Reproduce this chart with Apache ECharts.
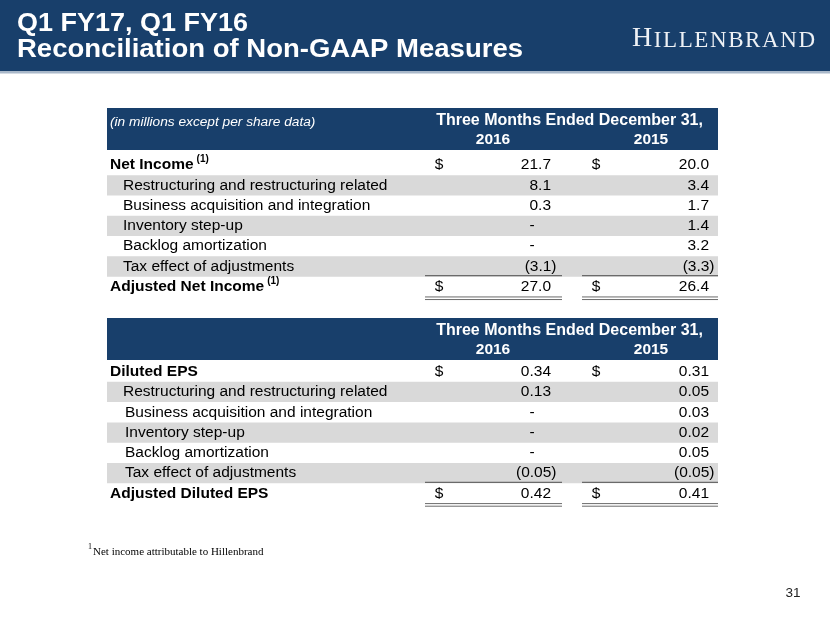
<!DOCTYPE html>
<html>
<head>
<meta charset="utf-8">
<script src="https://cdn.jsdelivr.net/npm/echarts@6/dist/echarts.min.js"></script>
<style>html,body{margin:0;padding:0;background:#fff}#c{width:830px;height:623px}</style>
</head>
<body>
<div id="c"></div>
<script>
// ---------------- data ----------------
const titleLines = ['Q1 FY17, Q1 FY16', 'Reconciliation of Non-GAAP Measures'];
const brandName = 'HILLENBRAND';
const headerNote = '(in millions except per share data)';
const periodTitle = 'Three Months Ended December 31,';
const years = ['2016', '2015'];

const incomeRows = ['Net Income', 'Restructuring and restructuring related', 'Business acquisition and integration', 'Inventory step-up', 'Backlog amortization', 'Tax effect of adjustments', 'Adjusted Net Income'];
const incomeNotes = ['(1)', '', '', '', '', '', '(1)'];
const income2016 = [21.7, 8.1, 0.3, null, null, -3.1, 27.0];
const income2015 = [20.0, 3.4, 1.7, 1.4, 3.2, -3.3, 26.4];

const epsRows = ['Diluted EPS', 'Restructuring and restructuring related', 'Business acquisition and integration', 'Inventory step-up', 'Backlog amortization', 'Tax effect of adjustments', 'Adjusted Diluted EPS'];
const epsNotes = ['', '', '', '', '', '', ''];
const eps2016 = [0.34, 0.13, null, null, null, -0.05, 0.42];
const eps2015 = [0.31, 0.05, 0.03, 0.02, 0.05, -0.05, 0.41];

const footnoteMark = '1';
const footnoteText = 'Net income attributable to Hillenbrand';
const pageNumber = '31';

// ---------------- styles / layout ----------------
const SANS = '"Liberation Sans", Arial, sans-serif';
const SERIF = '"Liberation Serif", "Times New Roman", serif';
const NAVY = '#183f6b';
const SHADE = '#d9d9d9';
const RULE = '#6a6a6a';
const FS = 15.5;
const GRID_LEFT = 107, GRID_W = 611;
// column offsets relative to the table's left edge
const COL = { label: 3, sub: 16, dollar: [332, 489], val: [444, 602], paren: 5.5, dash: [425, 582], rule: [[318, 455], [475, 611]] };

const tables = [
  { rows: incomeRows, notes: incomeNotes, a: income2016, b: income2015, dec: 1, indent: [], top: 154.85, headerTop: 108, showNote: true },
  { rows: epsRows, notes: epsNotes, a: eps2016, b: eps2015, dec: 2, indent: [null, 16, 18, 18, 18, 18, null], top: 361.5, headerTop: 318, showNote: false }
];
const ROW_H = 20.3;

const measureCtx = document.createElement('canvas').getContext('2d');
function measure(s, font) { measureCtx.font = font; return measureCtx.measureText(s).width; }

function txt(x, y, s, o) {
  o = o || {};
  const align = o.align || 'left';
  const va = o.va || 'middle';
  const el = {
    type: 'text', x: x, y: y, silent: true,
    style: {
      text: s, fill: o.color || '#000', fontSize: o.size || FS, fontWeight: o.weight || 'normal',
      fontStyle: o.style || 'normal', fontFamily: o.family || SANS,
      align: align, verticalAlign: va, textAlign: align, textVerticalAlign: va
    }
  };
  if (o.scaleX) { el.scaleX = o.scaleX; el.originX = 0; el.originY = 0; }
  return el;
}
function fmt(v, dec) { return Math.abs(v).toFixed(dec); }

function makeRender(t) {
  return function (params, api) {
    const i = api.value(1);
    const cs = params.coordSys;
    const yc = api.coord([0, i])[1];
    const h = api.size([0, 1])[1];
    const n = t.rows.length;
    const bold = i === 0 || i === n - 1;
    const X = v => cs.x + v;
    const ch = [];
    if (i % 2 === 1) {
      ch.push({ type: 'rect', silent: true, shape: { x: cs.x, y: yc - h / 2, width: cs.width, height: h }, style: { fill: SHADE } });
    }
    const lx = bold ? COL.label : (t.indent[i] != null ? t.indent[i] : COL.sub);
    ch.push(txt(X(lx), yc, t.rows[i], { weight: bold ? 'bold' : 'normal' }));
    if (t.notes[i]) {
      const w = measure(t.rows[i], 'bold ' + FS + 'px ' + SANS);
      ch.push(txt(X(lx) + w + 3, yc - 6, t.notes[i], { size: 10, weight: 'bold' }));
    }
    [t.a, t.b].forEach(function (arr, k) {
      const v = arr[i];
      if (bold) ch.push(txt(X(COL.dollar[k]), yc, '$', { align: 'center' }));
      if (v == null) {
        ch.push(txt(X(COL.dash[k]), yc, '-', { align: 'center' }));
      } else if (v < 0) {
        ch.push(txt(X(COL.val[k] + COL.paren), yc, '(' + fmt(v, t.dec) + ')', { align: 'right' }));
      } else {
        ch.push(txt(X(COL.val[k]), yc, fmt(v, t.dec), { align: 'right' }));
      }
      const r = COL.rule[k];
      if (i === n - 2) {
        const ly = yc + h / 2 - 1;
        ch.push({ type: 'line', silent: true, shape: { x1: X(r[0]), y1: ly, x2: X(r[1]), y2: ly }, style: { stroke: RULE, lineWidth: 1.2 } });
      }
      if (i === n - 1) {
        const ly = yc + h / 2;
        ch.push({ type: 'line', silent: true, shape: { x1: X(r[0]), y1: ly, x2: X(r[1]), y2: ly }, style: { stroke: RULE, lineWidth: 1 } });
        ch.push({ type: 'line', silent: true, shape: { x1: X(r[0]), y1: ly + 2.6, x2: X(r[1]), y2: ly + 2.6 }, style: { stroke: RULE, lineWidth: 1 } });
      }
    });
    return { type: 'group', children: ch };
  };
}

// ---------------- decorations ----------------
const graphics = [];
graphics.push({ type: 'rect', silent: true, shape: { x: 0, y: 0, width: 830, height: 71 }, style: { fill: NAVY } });
graphics.push({ type: 'rect', silent: true, shape: { x: 0, y: 71, width: 830, height: 2.5 }, style: { fill: '#a9b8c9' } });
(function () {
  const size = 25, font = 'bold ' + size + 'px ' + SANS;
  const targets = [[17, 248, 23.8], [17, 523, 49.8]];
  titleLines.forEach(function (s, j) {
    const w = measure(s, font);
    const sx = (targets[j][1] - targets[j][0]) / w;
    graphics.push(txt(targets[j][0], targets[j][2], s, { size: size, weight: 'bold', color: '#fff', scaleX: sx }));
  });
})();

// brand in small caps with letter spacing
(function () {
  const bigSize = 28, smallSize = 23, x0 = 632, x1 = 815, baseline = 47;
  const letters = brandName.split('');
  const widths = letters.map((c, j) => measure(c, (j === 0 ? bigSize : smallSize) + 'px ' + SERIF));
  const natural = widths.reduce((a, b) => a + b, 0);
  const gap = (x1 - x0 - natural) / (letters.length - 1);
  let x = x0;
  letters.forEach(function (c, j) {
    const sz = j === 0 ? bigSize : smallSize;
    graphics.push(txt(x, baseline + 0.216 * sz, c, { size: sz, family: SERIF, color: '#eef1f5', va: 'bottom' }));
    x += widths[j] + gap;
  });
})();

tables.forEach(function (t) {
  const top = t.headerTop;
  graphics.push({ type: 'rect', silent: true, shape: { x: GRID_LEFT, y: top, width: GRID_W, height: 42 }, style: { fill: NAVY } });
  if (t.showNote) graphics.push(txt(GRID_LEFT + 3, top + 14, headerNote, { size: 13.7, style: 'italic', color: '#fff' }));
  graphics.push(txt(569.5, top + 13, periodTitle, { size: 16, weight: 'bold', color: '#fff', align: 'center' }));
  graphics.push(txt(493, top + 32, years[0], { size: 15.5, weight: 'bold', color: '#fff', align: 'center' }));
  graphics.push(txt(651, top + 32, years[1], { size: 15.5, weight: 'bold', color: '#fff', align: 'center' }));
});

graphics.push(txt(88, 547, footnoteMark, { size: 8, family: SERIF, color: '#000' }));
graphics.push(txt(93, 552, footnoteText, { size: 11, family: SERIF, color: '#000' }));
graphics.push(txt(793, 593, pageNumber, { size: 13.5, color: '#222', align: 'center' }));

// ---------------- chart ----------------
const chart = echarts.init(document.getElementById('c'), null, { renderer: 'canvas' });
chart.setOption({
  animation: false,
  backgroundColor: '#fff',
  grid: tables.map(t => ({ left: GRID_LEFT, width: GRID_W, top: t.top, height: ROW_H * t.rows.length })),
  xAxis: tables.map((t, k) => ({ type: 'value', gridIndex: k, min: 0, max: 1, show: false })),
  yAxis: tables.map((t, k) => ({ type: 'category', gridIndex: k, data: t.rows, inverse: true, show: false })),
  series: tables.map((t, k) => ({
    type: 'custom', xAxisIndex: k, yAxisIndex: k, clip: false, silent: true,
    renderItem: makeRender(t),
    encode: { x: 0, y: 1 },
    data: t.rows.map((_, i) => [0, i])
  })),
  graphic: { elements: graphics }
});
</script>
</body>
</html>
